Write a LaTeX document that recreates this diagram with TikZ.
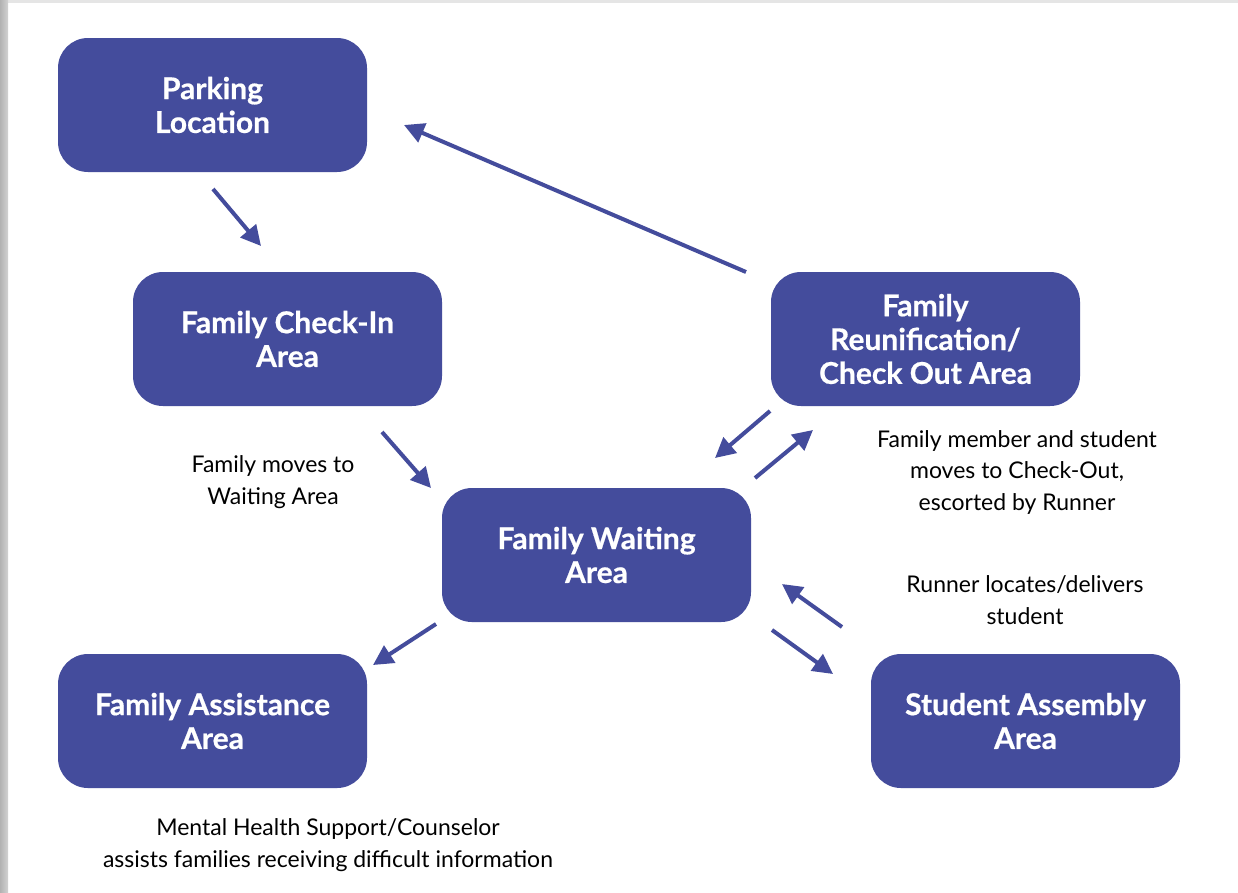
\documentclass[tikz,border=0pt]{standalone}
\usepackage{fontspec}
\setmainfont{Lato}
\newfontfamily\boxfont{Lato}[BoldFeatures={FakeBold=0.6}]
\usetikzlibrary{arrows.meta,shadings}
\definecolor{boxblue}{RGB}{68,76,156}
\tikzset{
  area/.style={draw=none, fill=boxblue, rounded corners=30pt, minimum width=309pt, minimum height=134pt,
    text=white, font=\boxfont\fontsize{30}{33.8}\selectfont\bfseries, align=center, inner sep=0pt},
  note/.style={font=\fontsize{23}{31.5}\selectfont, align=center, text=black, inner sep=0pt},
  flow/.style={boxblue, line width=4pt, -{Triangle[length=20pt,width=20pt]}},
}
\begin{document}
\begin{tikzpicture}[x=1pt,y=-1pt]
\useasboundingbox (0,0) rectangle (1238,892);
\fill[white] (0,0) rectangle (1238,892);
\fill[gray!20] (0,0) rectangle (1238,3);
\shade[left color=gray!60, right color=gray!35] (0,0) rectangle (8,892);

\node[area] (park) at (212.5,105) {Parking\\Location};
\node[area] (checkin) at (287.5,339) {Family Check-In\\Area};
\node[area] (reunif) at (925.5,339) {Family\\Reunification/\\Check Out Area};
\node[area] (wait) at (596.5,555) {Family Waiting\\Area};
\node[area] (assist) at (212.5,721) {Family Assistance\\Area};
\node[area] (student) at (1025.5,721) {Student Assembly\\Area};

\node[note] (n1) at (273,482) {Family moves to\\Waiting Area};
\node[note] (n2) at (1017,472) {Family member and student\\moves to Check-Out,\\escorted by Runner};
\node[note] (n3) at (1025,600) {Runner locates/delivers\\student};
\node[note] (n4) at (328,845) {Mental Health Support/Counselor\\assists families receiving difficult information};

\coordinate (a1s) at (213,189); \coordinate (a1e) at (261,246);
\coordinate (a2s) at (746,272); \coordinate (a2e) at (404,125);
\coordinate (a3s) at (382,432); \coordinate (a3e) at (431,488);
\coordinate (a4s) at (770,411); \coordinate (a4e) at (715,458);
\coordinate (a5s) at (755,478); \coordinate (a5e) at (813,430);
\coordinate (a6s) at (436,624); \coordinate (a6e) at (373,665);
\coordinate (a7s) at (842,627); \coordinate (a7e) at (782,584);
\coordinate (a8s) at (772,630); \coordinate (a8e) at (833,674);

\draw[flow] (a1s) -- (a1e);
\draw[flow] (a2s) -- (a2e);
\draw[flow] (a3s) -- (a3e);
\draw[flow] (a4s) -- (a4e);
\draw[flow] (a5s) -- (a5e);
\draw[flow] (a6s) -- (a6e);
\draw[flow] (a7s) -- (a7e);
\draw[flow] (a8s) -- (a8e);
\end{tikzpicture}
\end{document}
